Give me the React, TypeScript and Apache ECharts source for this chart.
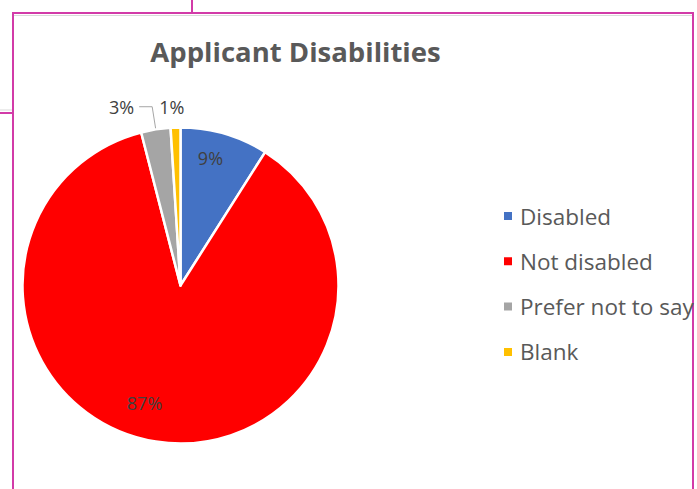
import React, { useEffect, useRef } from "react";
import * as echarts from "echarts";

// Share of applicants (percent) by disability status
const categories = ["Disabled", "Not disabled", "Prefer not to say", "Blank"];
const shares = [9, 87, 3, 1];
const sliceColors = ["#4472C4", "#FF0000", "#A5A5A5", "#FFC000"];

const WIDTH = 697;
const HEIGHT = 489;
const PIE_CX = 180.5;
const PIE_CY = 285.5;
const PIE_R = 158;
const FRAME = "#D23BA8";
const FONT = "'Open Sans', 'Noto Sans', sans-serif";

// Label placement per slice: nudge (degrees) from the slice's mid-angle and distance from centre.
// Entries without a radius keep ECharts' own outside layout with a leader line.
const labelPlacement: { nudge?: number; radius?: number; inside?: boolean }[] = [
  { nudge: -3, radius: 131, inside: true },
  { nudge: 8, radius: 123, inside: true },
  {},
  { nudge: -1, radius: 179 },
];

function midAngles(values: number[]): number[] {
  const total = values.reduce((a, b) => a + b, 0);
  let acc = 0;
  return values.map((v) => {
    const mid = ((acc + v / 2) / total) * 360;
    acc += v;
    return mid;
  });
}

export default function App() {
  const ref = useRef<HTMLDivElement>(null);

  useEffect(() => {
    if (!ref.current) return;
    const chart = echarts.init(ref.current, null, { renderer: "svg" });
    const mids = midAngles(shares);

    const data = categories.map((name, i) => {
      const place = labelPlacement[i];
      return {
        name,
        value: shares[i],
        itemStyle: { color: sliceColors[i] },
        label: place.inside ? { position: "inside" as const } : { position: "outside" as const },
        labelLine: { show: !place.radius },
      };
    });

    chart.setOption({
      animation: false,
      backgroundColor: "#ffffff",
      title: {
        text: "Applicant Disabilities",
        left: 295.5,
        top: 37,
        textAlign: "center",
        padding: 0,
        textStyle: {
          fontFamily: FONT,
          fontSize: 27.5,
          fontWeight: "bold",
          color: "#595959",
        },
      },
      legend: {
        orient: "vertical",
        left: 502,
        top: 204.5,
        padding: 0,
        itemWidth: 10,
        itemHeight: 10,
        itemGap: 22.3,
        icon: "rect",
        data: categories,
        selectedMode: false,
        textStyle: {
          fontFamily: FONT,
          fontSize: 22.5,
          color: "#595959",
          padding: [0, 0, 0, 2],
        },
      },
      graphic: [
        // frame lines around the chart area
        { type: "line", shape: { x1: 0, y1: 110, x2: 13, y2: 110 }, style: { stroke: "#D9D9D9", lineWidth: 1 } },
        { type: "line", shape: { x1: 13, y1: 15.5, x2: 693, y2: 15.5 }, style: { stroke: "#D9D9D9", lineWidth: 1 } },
        { type: "line", shape: { x1: 192, y1: 0, x2: 192, y2: 13 }, style: { stroke: FRAME, lineWidth: 2 } },
        { type: "line", shape: { x1: 0, y1: 113, x2: 13, y2: 113 }, style: { stroke: FRAME, lineWidth: 2 } },
        { type: "line", shape: { x1: 12, y1: 13, x2: 694, y2: 13 }, style: { stroke: FRAME, lineWidth: 2 } },
        { type: "line", shape: { x1: 13, y1: 13, x2: 13, y2: 489 }, style: { stroke: FRAME, lineWidth: 2 } },
        { type: "line", shape: { x1: 693, y1: 13, x2: 693, y2: 489 }, style: { stroke: FRAME, lineWidth: 2 } },
      ],
      series: [
        {
          type: "pie",
          center: [PIE_CX, PIE_CY],
          radius: PIE_R,
          startAngle: 90,
          clockwise: true,
          avoidLabelOverlap: false,
          emphasis: { disabled: true },
          itemStyle: { borderColor: "#ffffff", borderWidth: 2.5 },
          label: {
            show: true,
            formatter: (p: any) => `${Math.round(p.percent)}%`,
            fontFamily: FONT,
            fontSize: 18,
            color: "#404040",
          },
          labelLine: {
            length: 23,
            length2: 13,
            lineStyle: { color: "#A6A6A6", width: 1 },
          },
          labelLayout: (params: any) => {
            const place = labelPlacement[params.dataIndex];
            if (!place || !place.radius) return {};
            const a = ((mids[params.dataIndex] + (place.nudge || 0)) * Math.PI) / 180;
            return {
              x: PIE_CX + place.radius * Math.sin(a),
              y: PIE_CY - place.radius * Math.cos(a),
              align: "center",
              verticalAlign: "middle",
            };
          },
          data,
        },
      ],
    });

    return () => chart.dispose();
  }, []);

  return (
    <div
      ref={ref}
      style={{ position: "fixed", left: 0, top: 0, width: WIDTH, height: HEIGHT }}
    />
  );
}
